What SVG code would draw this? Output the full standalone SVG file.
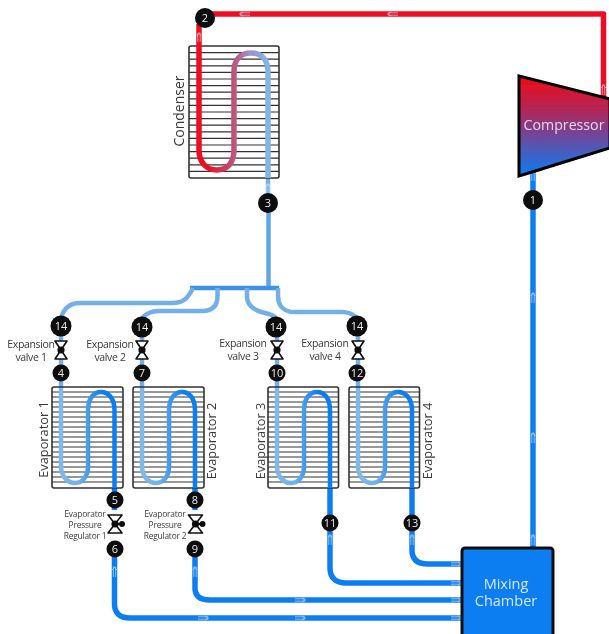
<svg xmlns="http://www.w3.org/2000/svg" width="609" height="634" viewBox="0 0 609 634">
<style>
text{font-family:"Open Sans","Noto Sans","Liberation Sans",sans-serif;}
.p{fill:none;stroke-linecap:butt;stroke-linejoin:round;}
.r{stroke:#ee0a20;stroke-width:5.5;}
.b{stroke:#0a7df2;stroke-width:5.5;}
.l{stroke:#72b0e6;stroke-width:4.5;}
.n{fill:#0a0a0a;}
.t{fill:#eee;font-size:11px;text-anchor:middle;}
.lab{fill:#3a3a3a;text-anchor:middle;}
.s{font-size:10.5px;letter-spacing:-.35px;}
.xs{font-size:8.4px;letter-spacing:-.2px;}
.big{font-size:14px;}
.eva{font-size:12.8px;}
.box{fill:none;stroke:#333;stroke-width:1.6;}
.bar{stroke:#333;stroke-width:1.2;fill:none;}
.v{fill:#fff;stroke:#111;stroke-width:1.6;stroke-linejoin:round;}
.a{fill:none;stroke:#d8ecff;stroke-width:1;opacity:.6;}
</style>
<defs>
<linearGradient id="cg" gradientUnits="userSpaceOnUse" x1="206" y1="0" x2="266" y2="0">
<stop offset="0" stop-color="#ee0a20"/><stop offset=".45" stop-color="#c05078"/><stop offset=".72" stop-color="#a090c4"/><stop offset="1" stop-color="#82b4e4"/>
</linearGradient>
<linearGradient id="eg" x1="0" y1="0" x2="1" y2="0">
<stop offset="0" stop-color="#80bae8"/><stop offset=".35" stop-color="#6cb2ee"/><stop offset=".55" stop-color="#3996ee"/><stop offset=".8" stop-color="#0a7df2"/>
</linearGradient>
<linearGradient id="comp" x1="0" y1="0" x2="0" y2="1">
<stop offset="0" stop-color="#f00a14"/><stop offset=".35" stop-color="#b0285a"/><stop offset=".62" stop-color="#6a4aa0"/><stop offset="1" stop-color="#0a7df2"/>
</linearGradient>
<filter id="soft" x="0" y="0" width="100%" height="100%"><feGaussianBlur stdDeviation=".4"/></filter>
<path id="cbars" class="bar" d="M189 52.6H279M189 59.2H279M189 65.8H279M189 72.4H279M189 79H279M189 85.6H279M189 92.2H279M189 98.8H279M189 105.4H279M189 112H279M189 118.6H279M189 125.2H279M189 131.8H279M189 138.4H279M189 145H279M189 151.6H279M189 158.2H279M189 164.8H279M189 171.4H279"/>
<path id="ebars" class="bar" d="M0 5H71M0 10H71M0 15H71M0 20H71M0 25H71M0 30H71M0 35H71M0 40H71M0 45H71M0 50H71M0 55H71M0 60H71M0 65H71M0 70H71M0 75H71M0 80H71M0 85H71M0 90H71M0 95H71"/>
<g id="xv"><path class="v" d="M-6 -9H6L0 0L6 9H-6L0 0Z"/><circle r="3.6" fill="#111"/></g>
<g id="rv"><path class="v" d="M-7 -9H7L0 0L7 9H-7L0 0Z"/><circle r="3.6" fill="#111"/><path d="M0 0H7" stroke="#111" stroke-width="2"/><circle cx="7" r="3" fill="#111"/></g>
<path id="ar" class="a" d="M-5 -1.2H5M-5 1.2H5M-5 -1.2V1.2M-2 -2.4L-4.5 0L-2 2.4"/>
</defs>
<g filter="url(#soft)">
<g id="connectors">
<path class="p r" d="M210 14H603.500V98"/>
<path class="p r" d="M199 24V42"/>
<path class="p l" d="M268 178V212"/>
<path class="p" stroke="#5ea6e6" stroke-width="4.500" d="M268.500 212V287"/>
<path class="p" stroke="#3a92e8" stroke-width="4.500" d="M190 288H279"/>
<path class="p l" d="M193 288C188 298 184 303 172 303H80C68 303 63 311 61 318"/>
<path class="p l" d="M217.500 288V296C217.500 306 212 311 202 311H158C150 311 145 315 142 318"/>
<path class="p l" d="M247 288V296C247 306 256 311 265 313C270 314 274 316 276 318"/>
<path class="p l" d="M278 288V296C278 306 284 312 294 312H342C350 312 354 315 357 318"/>
<path class="p l" d="M61 334V388M142 334V388M277 334V388M358 334V388"/>
<path class="p b" d="M114.500 488V510M114.500 555V604C114.500 613 120 618 130 618H464"/>
<path class="p b" d="M195 488V510M195 555V588C195 596 200 600 210 600H464"/>
<path class="p b" d="M330 488V568C330 578 336 583 346 583H464"/>
<path class="p b" d="M412 488V550C412 560 418 564 428 564H464"/>
<path class="p b" d="M533 548V172"/>
<use href="#ar" transform="translate(245 14)"/>
<use href="#ar" transform="translate(393 14)"/>
<use href="#ar" transform="translate(199 38) rotate(90)"/>
<use href="#ar" transform="translate(603.500 90) rotate(90)"/>
<use href="#ar" transform="translate(268 189) rotate(90)"/>
<use href="#ar" transform="translate(533 176) rotate(90)"/>
<use href="#ar" transform="translate(533 298) rotate(90)"/>
<use href="#ar" transform="translate(533 438) rotate(90)"/>
<use href="#ar" transform="translate(533 540) rotate(90)"/>
<use href="#ar" transform="translate(114.500 572) rotate(90)"/>
<use href="#ar" transform="translate(195 572) rotate(90)"/>
<use href="#ar" transform="translate(330 540) rotate(90)"/>
<use href="#ar" transform="translate(412 540) rotate(90)"/>
<use href="#ar" transform="translate(203 618) rotate(180)"/>
<use href="#ar" transform="translate(300 618) rotate(180)"/>
<use href="#ar" transform="translate(300 600) rotate(180)"/>
<use href="#ar" transform="translate(456 564) rotate(180)"/>
<use href="#ar" transform="translate(456 583) rotate(180)"/>
<use href="#ar" transform="translate(456 600) rotate(180)"/>
<use href="#ar" transform="translate(456 618) rotate(180)"/>
</g>
<g id="condenser">
<rect class="box" x="189" y="46" width="90" height="132" rx="2"/>
<use href="#cbars"/>
<path class="p" stroke="url(#cg)" stroke-width="5.500" d="M199 42V150C199 162 206 170 217 170C228 170 234 162 234 150V72C234 60 240 53 251 53C262 53 268 60 268 72V178"/>
<text class="lab big" transform="translate(184 111) rotate(-90)">Condenser</text>
</g>
<g id="evaporator1">
<use href="#ebars" transform="translate(52 387)"/>
<rect class="box" x="52" y="387" width="71" height="101" rx="2"/>
<path class="p" stroke="url(#eg)" stroke-width="4.500" d="M61 388V466C61 477 68 483 75 483C82 483 88 477 88 466V410C88 398 94 392 101 392C108 392 114.500 398 114.500 410V488"/>
<text class="lab eva" transform="translate(48 439.500) rotate(-90)">Evaporator 1</text>
</g>
<g id="evaporator2">
<use href="#ebars" transform="translate(133 387)"/>
<rect class="box" x="133" y="387" width="71" height="101" rx="2"/>
<path class="p" stroke="url(#eg)" stroke-width="4.500" d="M142 388V466C142 477 149 483 156 483C163 483 169 477 169 466V410C169 398 175 392 182 392C189 392 195 398 195 410V488"/>
<text class="lab eva" transform="translate(216 441) rotate(-90)">Evaporator 2</text>
</g>
<g id="evaporator3">
<use href="#ebars" transform="translate(268 387)"/>
<rect class="box" x="268" y="387" width="70.500" height="101" rx="2"/>
<path class="p" stroke="url(#eg)" stroke-width="4.500" d="M277 388V466C277 477 284 483 291 483C298 483 304 477 304 466V410C304 398 310 392 317 392C324 392 330 398 330 410V488"/>
<text class="lab eva" transform="translate(265 441) rotate(-90)">Evaporator 3</text>
</g>
<g id="evaporator4">
<use href="#ebars" transform="translate(349 387)"/>
<rect class="box" x="349" y="387" width="70.500" height="101" rx="2"/>
<path class="p" stroke="url(#eg)" stroke-width="4.500" d="M358 388V466C358 477 365 483 372 483C379 483 385 477 385 466V410C385 398 391 392 398 392C405 392 412 398 412 410V488"/>
<text class="lab eva" transform="translate(432 441) rotate(-90)">Evaporator 4</text>
</g>
<g id="compressor">
<path d="M519 76L610 99V148L519 176Z" fill="url(#comp)" stroke="#000" stroke-width="3"/>
<text x="564" y="130" text-anchor="middle" font-size="14.200" fill="#e6d8ea">Compressor</text>
</g>
<g id="mixing-chamber">
<rect x="462" y="548" width="91" height="95" rx="3" fill="#0a7df2" stroke="#111" stroke-width="3"/>
<text x="506" y="589" text-anchor="middle" font-size="14.500" fill="#d4e8ff">Mixing</text>
<text x="506" y="606" text-anchor="middle" font-size="14.500" fill="#d4e8ff">Chamber</text>
</g>
<g id="expansion-valve-1"><use href="#xv" x="61" y="350"/><text class="lab s" x="31" y="348">Expansion</text><text class="lab s" x="31" y="361">valve 1</text></g>
<g id="expansion-valve-2"><use href="#xv" x="142" y="350"/><text class="lab s" x="110" y="348">Expansion</text><text class="lab s" x="110" y="361">valve 2</text></g>
<g id="expansion-valve-3"><use href="#xv" x="277" y="350"/><text class="lab s" x="243" y="347">Expansion</text><text class="lab s" x="243" y="360">valve 3</text></g>
<g id="expansion-valve-4"><use href="#xv" x="358" y="350"/><text class="lab s" x="325" y="347">Expansion</text><text class="lab s" x="325" y="360">valve 4</text></g>
<g id="regulator-1"><use href="#rv" x="115" y="524"/><text class="lab xs" x="85" y="517">Evaporator</text><text class="lab xs" x="85" y="528">Pressure</text><text class="lab xs" x="85" y="539">Regulator 1</text></g>
<g id="regulator-2"><use href="#rv" x="195.500" y="524"/><text class="lab xs" x="165" y="517">Evaporator</text><text class="lab xs" x="165" y="528">Pressure</text><text class="lab xs" x="165" y="539">Regulator 2</text></g>
<g id="n2"><circle class="n" cx="205" cy="18" r="10"/><text class="t" x="205" y="22">2</text></g>
<g id="n3"><circle class="n" cx="268" cy="203" r="10"/><text class="t" x="268" y="207">3</text></g>
<g id="n1"><circle class="n" cx="533" cy="200" r="10"/><text class="t" x="533" y="204">1</text></g>
<g id="n14a"><circle class="n" cx="61" cy="326" r="10.500"/><text class="t" x="61" y="330">14</text></g>
<g id="n14b"><circle class="n" cx="142" cy="327" r="10.500"/><text class="t" x="142" y="331">14</text></g>
<g id="n14c"><circle class="n" cx="276" cy="327" r="10.500"/><text class="t" x="276" y="331">14</text></g>
<g id="n14d"><circle class="n" cx="357" cy="326" r="10.500"/><text class="t" x="357" y="330">14</text></g>
<g id="n4"><circle class="n" cx="61" cy="373" r="8.500"/><text class="t" x="61" y="377">4</text></g>
<g id="n7"><circle class="n" cx="142" cy="373" r="8.500"/><text class="t" x="142" y="377">7</text></g>
<g id="n10"><circle class="n" cx="277" cy="373" r="8.500"/><text class="t" x="277" y="377">10</text></g>
<g id="n12"><circle class="n" cx="357" cy="373" r="8.500"/><text class="t" x="357" y="377">12</text></g>
<g id="n5"><circle class="n" cx="115" cy="500" r="8.500"/><text class="t" x="115" y="504">5</text></g>
<g id="n8"><circle class="n" cx="195" cy="500" r="8.500"/><text class="t" x="195" y="504">8</text></g>
<g id="n6"><circle class="n" cx="115" cy="549" r="8.500"/><text class="t" x="115" y="553">6</text></g>
<g id="n9"><circle class="n" cx="195" cy="549" r="8.500"/><text class="t" x="195" y="553">9</text></g>
<g id="n11"><circle class="n" cx="330" cy="523" r="8.500"/><text class="t" x="330" y="527">11</text></g>
<g id="n13"><circle class="n" cx="412" cy="523" r="8.500"/><text class="t" x="412" y="527">13</text></g>
</g>
</svg>
